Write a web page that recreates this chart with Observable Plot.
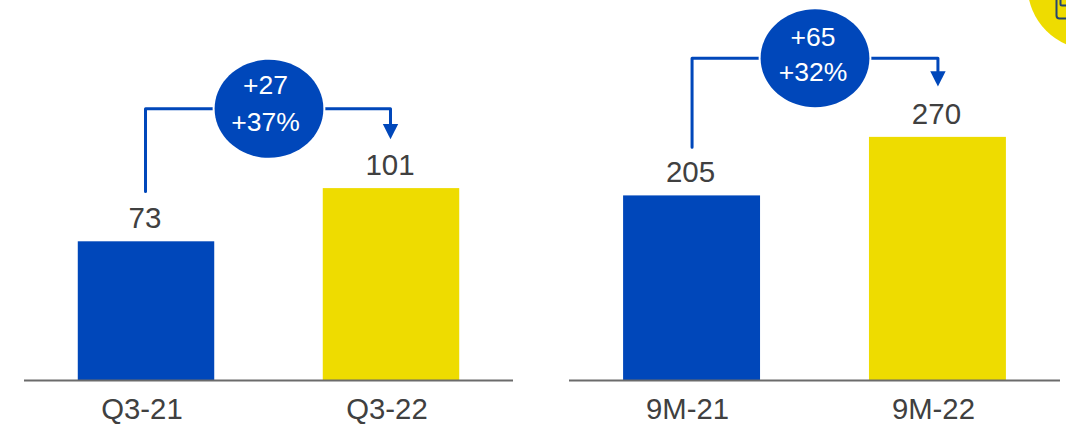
<!DOCTYPE html>
<html>
<head>
<meta charset="utf-8">
<script src="https://cdn.jsdelivr.net/npm/d3@7"></script>
<script src="https://cdn.jsdelivr.net/npm/@observablehq/plot@0.6"></script>
<style>
  html, body { margin: 0; padding: 0; background: #fff; overflow: hidden; }
  #charts { display: flex; width: 1066px; height: 424px; }
  #charts svg { display: block; flex: none; }
</style>
</head>
<body>
<div id="charts"></div>
<script>
// Quarter comparison
const quarterPeriods = ["Q3-21", "Q3-22"];
const quarterValues = [73, 101];
const quarterDelta = ["+27", "+37%"];

// Nine-month comparison
const ninePeriods = ["9M-21", "9M-22"];
const nineValues = [205, 270];
const nineDelta = ["+65", "+32%"];

const BLUE = "#0047BA";
const YELLOW = "#EEDC00";
const INK = "#404040";
const ICON = "#24456e";
const FONT = "'Liberation Sans', Arial, sans-serif";

// Ellipse symbol for the delta bubbles (wider than tall).
const bubbleSymbol = {
  draw(ctx, size) {
    const r = Math.sqrt(size / Math.PI), rx = r * 1.11, ry = r, k = 0.5523;
    ctx.moveTo(-rx, 0);
    ctx.bezierCurveTo(-rx, -ry * k, -rx * k, -ry, 0, -ry);
    ctx.bezierCurveTo(rx * k, -ry, rx, -ry * k, rx, 0);
    ctx.bezierCurveTo(rx, ry * k, rx * k, ry, 0, ry);
    ctx.bezierCurveTo(-rx * k, ry, -rx, ry * k, -rx, 0);
    ctx.closePath();
  }
};

// Downward arrowhead centred on its anchor.
const arrowSymbol = {
  draw(ctx, size) {
    const r = Math.sqrt(size / Math.PI);
    ctx.moveTo(-r, -r);
    ctx.lineTo(r, -r);
    ctx.lineTo(0, r);
    ctx.closePath();
  }
};

// Rounded square outline for the badge icon.
const roundedSquare = {
  draw(ctx, size) {
    const r = Math.sqrt(size / Math.PI), c = r * 0.25;
    ctx.moveTo(-r + c, -r);
    ctx.lineTo(r - c, -r);
    ctx.quadraticCurveTo(r, -r, r, -r + c);
    ctx.lineTo(r, r - c);
    ctx.quadraticCurveTo(r, r, r - c, r);
    ctx.lineTo(-r + c, r);
    ctx.quadraticCurveTo(-r, r, -r, r - c);
    ctx.lineTo(-r, -r + c);
    ctx.quadraticCurveTo(-r, -r, -r + c, -r);
    ctx.closePath();
  }
};

function panel({periods, values, delta, yMax, startAt, level, arrowEnd, arrowAt,
                marginLeft, marginRight, paddingOuter, deltaShift, deltaRise, bracketShift,
                extras = []}) {
  const bars = periods.map((period, i) => ({period, value: values[i], color: i ? YELLOW : BLUE}));
  return Plot.plot({
    width: 533,
    height: 424,
    marginTop: 0,
    marginBottom: 44,
    marginLeft,
    marginRight,
    style: {background: "transparent", fontFamily: FONT},
    x: {domain: periods, paddingInner: 0.443, paddingOuter, round: false, axis: null},
    y: {domain: [0, yMax], axis: null},
    marks: [
      Plot.barY(bars, {x: "period", y: "value", fill: "color"}),
      Plot.ruleY([0], {stroke: "#6b6b6b", strokeWidth: 2}),
      Plot.text(bars, {x: "period", y: "value", text: d => String(d.value), dx: -1.5, dy: -23,
        fontSize: 29.5, fill: INK}),
      Plot.text(bars, {x: "period", text: "period", frameAnchor: "bottom", dx: -4.5, dy: 38,
        fontSize: 29.3, fill: INK}),
      // Bracket from the earlier bar's label to the later bar's arrowhead
      Plot.line(
        [[periods[0], startAt], [periods[0], level], [periods[1], level], [periods[1], arrowEnd]],
        {x: "0", y: "1", dx: bracketShift, stroke: BLUE, strokeWidth: 3, strokeLinejoin: "round"}
      ),
      Plot.dot([periods[1]], {x: d => d, y: () => arrowAt, dx: bracketShift, symbol: arrowSymbol, r: 7.7,
        fill: BLUE, stroke: "none"}),
      // Delta bubble sitting on the bracket, centred between the bars
      Plot.dot([level], {y: d => d, frameAnchor: "middle", symbol: bubbleSymbol, r: 49,
        fill: BLUE, stroke: "white", strokeWidth: 4, paintOrder: "stroke"}),
      Plot.text([level], {y: d => d, frameAnchor: "middle", text: () => delta[0],
        dx: deltaShift, dy: -21 - deltaRise, fontSize: 26.5, fill: "white"}),
      Plot.text([level], {y: d => d, frameAnchor: "middle", text: () => delta[1],
        dx: deltaShift, dy: 14.5 - deltaRise / 2, fontSize: 26.5, fill: "white"}),
      ...extras
    ]
  });
}

// Corner badge cut off by the top right of the slide
const badge = [
  Plot.dot([0], {frameAnchor: "top-right", dx: 31, dy: -15, r: 64, fill: YELLOW, stroke: "none"}),
  Plot.dot([0], {frameAnchor: "top-right", dx: 8, dy: 6, symbol: roundedSquare, r: 12,
    fill: "none", stroke: ICON, strokeWidth: 2}),
  Plot.dot([0], {frameAnchor: "top-right", dx: 6, dy: -1, symbol: roundedSquare, r: 6,
    fill: "none", stroke: ICON, strokeWidth: 2})
];

const root = document.getElementById("charts");
root.append(
  panel({periods: quarterPeriods, values: quarterValues, delta: quarterDelta,
    yMax: 200, startAt: 99.5, level: 143, arrowEnd: 130, arrowAt: 131,
    marginLeft: 24, marginRight: 20, paddingOuter: 0.2195, deltaShift: -3.5, deltaRise: 2, bracketShift: -1}),
  panel({periods: ninePeriods, values: nineValues, delta: nineDelta,
    yMax: 422, startAt: 259, level: 358, arrowEnd: 338, arrowAt: 335,
    marginLeft: 36, marginRight: 6, paddingOuter: 0.22, deltaShift: -2, deltaRise: 0, bracketShift: 0, extras: badge})
);
</script>
</body>
</html>
